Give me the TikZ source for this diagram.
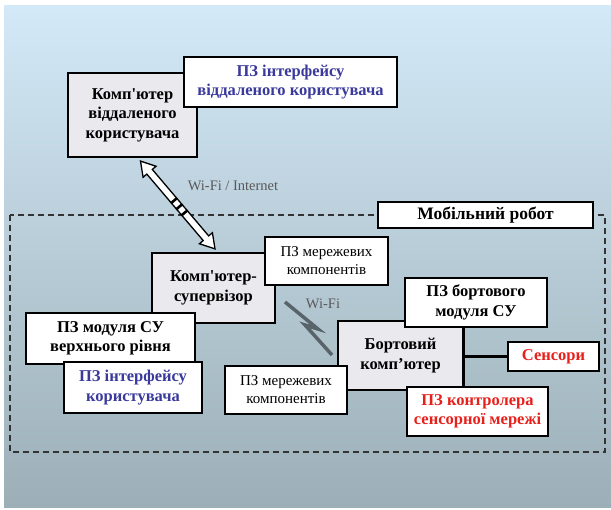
\documentclass[tikz,border=0pt]{standalone}
\usepackage{fontspec}
\setmainfont{Liberation Serif}[Ligatures=TeXOff]
\usetikzlibrary{calc}

\definecolor{bgtop}{HTML}{D3E9F7}
\definecolor{bgmid}{HTML}{BFD5E1}
\definecolor{bgbot}{HTML}{9CAFB7}
\definecolor{pcgray}{HTML}{E9E9EE}
\definecolor{swblue}{HTML}{3A3A9C}
\definecolor{swred}{HTML}{E8201C}
\definecolor{boltgray}{HTML}{59636A}

\begin{document}
\begin{tikzpicture}[x=1pt, y=-1pt,
		box/.style={draw=black, line width=2.2pt, fill=white, text=black, align=center, inner sep=0pt, font=\bfseries\fontsize{16.5}{19.5}\selectfont},
		pcbox/.style={box, fill=pcgray},
		plainbox/.style={box, font=\fontsize{15}{18}\selectfont},
		linktext/.style={text=black!65, inner sep=0pt, font=\fontsize{14.5}{17}\selectfont}]
		\useasboundingbox (0,0) rectangle (611,510);
		\shade[top color=bgtop, middle color=bgmid, bottom color=bgbot] (4,6) rectangle (611,508);

		% robot frame
		\draw[dash pattern=on 6pt off 4pt, line width=1.2pt, black!80] (10,215) rectangle (605,452);

		% remote side
		\node[pcbox, minimum width=129pt, minimum height=84pt] (remotepc) at (132.5,115) {Комп'ютер\\віддаленого\\користувача};
		\node[box, text=swblue, minimum width=213pt, minimum height=50pt] (remotesw) at (290.5,82) {ПЗ інтерфейсу\\віддаленого користувача};
		\node[box, minimum width=215pt, minimum height=26pt, font=\bfseries\fontsize{17.5}{20}\selectfont] (robot) at (485.5,215) {Мобільний робот};

		% supervisor
		\node[pcbox, minimum width=123pt, minimum height=70pt] (supervisor) at (213.5,288) {Комп'ютер-\\супервізор};
		\node[plainbox, minimum width=123pt, minimum height=48pt] (netswtop) at (326.5,261) {ПЗ мережевих\\компонентів};
		\node[box, minimum width=169pt, minimum height=51pt] (uppersw) at (110.5,338.5) {ПЗ модуля СУ\\верхнього рівня};
		\node[box, text=swblue, minimum width=138pt, minimum height=51pt] (uisw) at (133,387.5) {ПЗ інтерфейсу\\користувача};

		% onboard computer
		\node[pcbox, minimum width=125pt, minimum height=69pt] (onboard) at (400.5,355.5) {Бортовий\\комп’ютер};
		\node[box, minimum width=142pt, minimum height=49pt] (onboardsw) at (476,302.5) {ПЗ бортового\\модуля СУ};
		\node[box, text=swred, minimum width=91pt, minimum height=29pt] (sensors) at (553.5,356.5) {Сенсори};
		\node[plainbox, minimum width=122pt, minimum height=48pt] (netswbot) at (286,390) {ПЗ мережевих\\компонентів};
		\node[box, text=swred, minimum width=141pt, minimum height=49pt] (ctrlsw) at (477.5,411.5) {ПЗ контролера\\сенсорної мережі};
		\draw[line width=2.2pt] (onboard.east |- onboardsw.south) -- (onboard.east |- ctrlsw.north);
		\draw[line width=2.2pt] (onboard.east |- sensors.west) -- (sensors.west);

		% links
		\coordinate (wanA) at ([xshift=8pt, yshift=-3pt]remotepc.south);
		\coordinate (wanB) at ([xshift=1.5pt, yshift=3pt]supervisor.north);
		\coordinate (headA) at ($(wanA)!14pt!(wanB)$);
		\coordinate (headB) at ($(wanB)!14pt!(wanA)$);
		\draw[fill=white, line width=1.3pt, line join=miter] (wanA)
			-- ($(headA)!8.5pt!90:(wanB)$) -- ($(headA)!3.6pt!90:(wanB)$)
			-- ($(headB)!3.6pt!-90:(wanA)$) -- ($(headB)!8.5pt!-90:(wanA)$)
			-- (wanB)
			-- ($(headB)!8.5pt!90:(wanA)$) -- ($(headB)!3.6pt!90:(wanA)$)
			-- ($(headA)!3.6pt!-90:(wanB)$) -- ($(headA)!8.5pt!-90:(wanB)$)
			-- cycle;
		\foreach \t in {0.45,0.52,0.59} {
			\coordinate (p) at ($(wanA)!\t!(wanB)$);
			\draw[line width=2.6pt] ($(p)!4.2pt!90:(wanB)$) -- ($(p)!4.2pt!-90:(wanB)$);
		}
		\node[linktext] (wantext) at (233,186) {Wi-Fi / Internet};

		\coordinate (boltA) at (285,302);
		\coordinate (boltB) at (332,355);
		\draw[boltgray, line width=3.5pt, line join=miter] (boltA) -- (318,329) -- (305,325) -- (boltB);
		\node[linktext] (wifitext) at (323,304) {Wi-Fi};
	\end{tikzpicture}
\end{document}
